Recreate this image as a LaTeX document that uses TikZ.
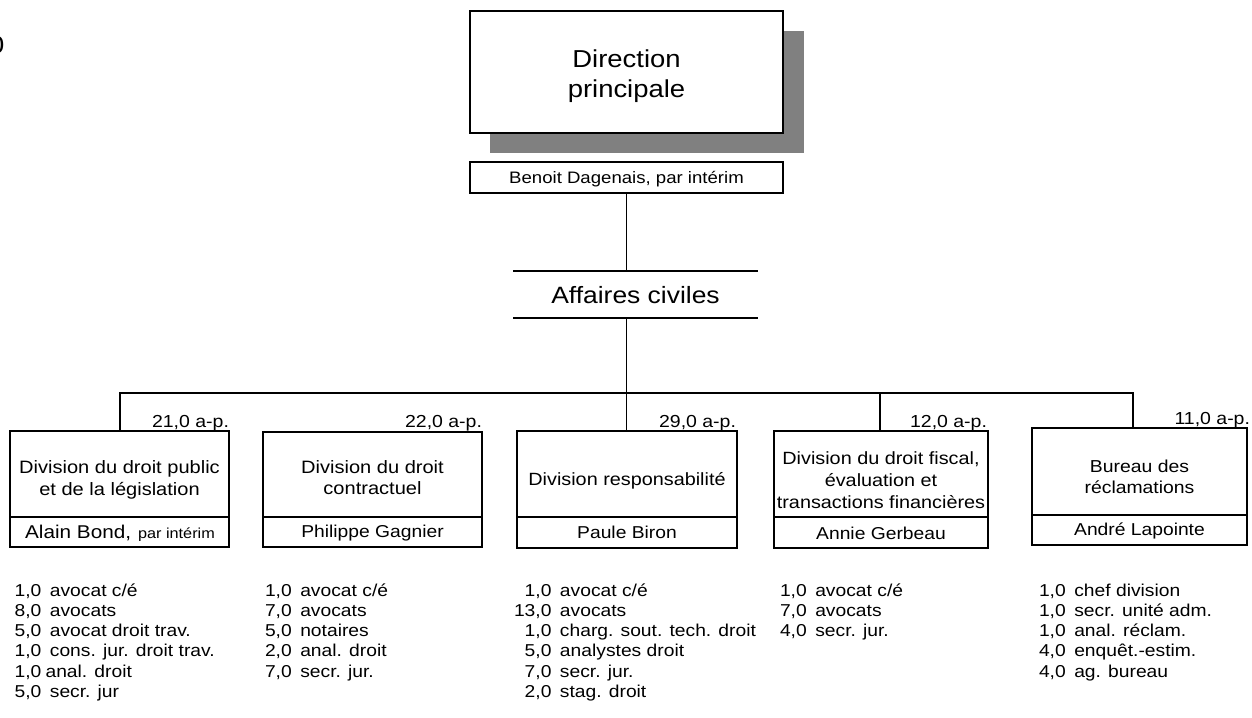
\documentclass[tikz,border=0pt]{standalone}
\usepackage{fontspec}
\setmainfont{Liberation Sans}[FakeStretch=1.12]
\definecolor{shade}{HTML}{808080}
\newcommand\fsz[2]{\fontsize{#1pt}{#2pt}\selectfont}
\newcommand\mlines[1]{\begin{tabular}[t]{@{}c@{}}#1\end{tabular}}
\newcommand\staff[1]{\begin{tabular}[t]{@{}r@{\hspace{8.5pt}}l@{}}#1\end{tabular}}
\newcommand\tight{\hspace{-4.3pt}}
\newcommand\interim[1]{{\fsz{14.5}{17}#1}}
\begin{document}
\begin{tikzpicture}[x=1pt,y=-1pt,
  frame/.style={draw, line width=1.3pt, inner sep=0pt, outer sep=0pt, anchor=north west},
  txt/.style={inner sep=0pt, outer sep=0pt, anchor=base},
  link/.style={line width=1.3pt},
  fte/.style={txt, anchor=base east, font=\fsz{17.4}{20}},
  list/.style={txt, anchor=base west, font=\fsz{17.2}{20.3}}]
\useasboundingbox (0,0) rectangle (1252,717);

% cut-off figure at the left margin
\node[txt, anchor=base east] (frag) at (4.5,53) {\fsz{24.5}{30}0};

% head office with drop shadow
\node[anchor=north west, inner sep=0pt, outer sep=0pt, fill=shade,
      minimum width=314pt, minimum height=122pt] (shadow) at (490,31) {};
\node[frame, fill=white, minimum width=313pt, minimum height=122pt] (dir) at (470,11) {};
\node[txt] (dirtxt) at (626.5,67) {\fsz{24.5}{30}\mlines{Direction\\principale}};
\node[frame, minimum width=313pt, minimum height=31pt] (head) at (470,162) {};
\node[txt] (headtxt) at (626.5,183) {\fsz{16.6}{20}Benoit Dagenais, par intérim};

% civil affairs sector
\node[anchor=north west, inner sep=0pt, outer sep=0pt,
      minimum width=245pt, minimum height=47pt] (ac) at (513,271) {};
\draw[link] (ac.north west) -- (ac.north east);
\draw[link] (ac.south west) -- (ac.south east);
\node[txt] (actxt) at (635.5,303) {\fsz{23.6}{28}Affaires civiles};

% division boxes: title part and manager part
\node[frame, minimum width=219pt, minimum height=86pt] (t1) at (10,431) {};
\node[frame, minimum width=219pt, minimum height=30pt] (n1) at (10,517) {};
\node[frame, minimum width=219pt, minimum height=85pt] (t2) at (263,432) {};
\node[frame, minimum width=219pt, minimum height=30pt] (n2) at (263,517) {};
\node[frame, minimum width=220pt, minimum height=86pt] (t3) at (517,431) {};
\node[frame, minimum width=220pt, minimum height=31pt] (n3) at (517,517) {};
\node[frame, minimum width=214pt, minimum height=86pt] (t4) at (774,431) {};
\node[frame, minimum width=214pt, minimum height=31pt] (n4) at (774,517) {};
\node[frame, minimum width=215pt, minimum height=87pt] (t5) at (1032,428) {};
\node[frame, minimum width=215pt, minimum height=30pt] (n5) at (1032,515) {};

\node[txt] (t1txt) at (119.5,473) {\fsz{17.9}{22.5}\mlines{Division du droit public\\et de la législation}};
\node[txt] (t2txt) at (372.5,473) {\fsz{17.9}{21}\mlines{Division du droit\\contractuel}};
\node[txt] (t3txt) at (627,485) {\fsz{17.7}{21}Division responsabilité};
\node[txt] (t4txt) at (881,464) {\fsz{17.7}{22}\mlines{Division du droit fiscal,\\évaluation et\\transactions financières}};
\node[txt] (t5txt) at (1139.5,472) {\fsz{17.3}{21}\mlines{Bureau des\\réclamations}};

\node[txt] (n1txt) at (120,538) {\fsz{18.5}{20}Alain Bond,\hspace{7pt}\interim{par intérim}};
\node[txt] (n2txt) at (372.5,537) {\fsz{17.2}{20}Philippe Gagnier};
\node[txt] (n3txt) at (627,538) {\fsz{17.2}{20}Paule Biron};
\node[txt] (n4txt) at (881,539) {\fsz{17.2}{20}Annie Gerbeau};
\node[txt] (n5txt) at (1139.5,535) {\fsz{17.2}{20}André Lapointe};

% staff counts
\node[fte] (f1) at (229,427) {21,0 a-p.};
\node[fte] (f2) at (482,427) {22,0 a-p.};
\node[fte] (f3) at (736,427) {29,0 a-p.};
\node[fte] (f4) at (987,427) {12,0 a-p.};
\node[fte] (f5) at (1250,424) {11,0 a-p.};

% reporting lines
\coordinate (barL) at (120,393);
\coordinate (barR) at (1133,393);
\coordinate (d4) at (880,393);
\draw[link] (head.south) -- (ac.north -| head.south);
\draw[link] (ac.south -| head.south) -- (t3.north -| head.south);
\draw[link] (barL |- t1.north) -- (barL) -- (barR) -- (barR |- t5.north);
\draw[link] (d4) -- (d4 |- t4.north);

% staff lists
\node[list] (s1) at (14.6,596) {\staff{1,0 & avocat c/é\\ 8,0 & avocats\\ 5,0 & avocat droit trav.\\ 1,0 & cons. jur. droit trav.\\ 1,0 & \tight anal. droit\\ 5,0 & secr. jur}};
\node[list] (s2) at (265,596) {\staff{1,0 & avocat c/é\\ 7,0 & avocats\\ 5,0 & notaires\\ 2,0 & anal. droit\\ 7,0 & secr. jur.}};
\node[list] (s3) at (514,596) {\staff{1,0 & avocat c/é\\ 13,0 & avocats\\ 1,0 & charg. sout. tech. droit\\ 5,0 & analystes droit\\ 7,0 & secr. jur.\\ 2,0 & stag. droit}};
\node[list] (s4) at (780,596) {\staff{1,0 & avocat c/é\\ 7,0 & avocats\\ 4,0 & secr. jur.}};
\node[list] (s5) at (1039,596) {\staff{1,0 & chef division\\ 1,0 & secr. unité adm.\\ 1,0 & anal. réclam.\\ 4,0 & enquêt.-estim.\\ 4,0 & ag. bureau}};
\end{tikzpicture}
\end{document}
